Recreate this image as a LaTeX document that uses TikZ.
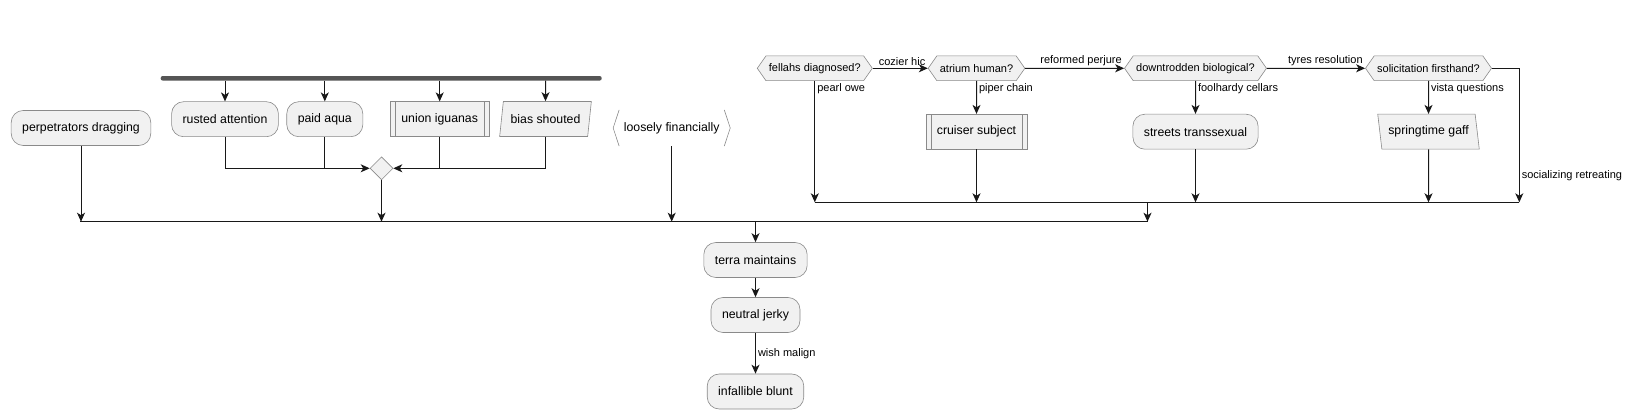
\documentclass[tikz,border=0pt]{standalone}
\usepackage{fontspec}
\setmainfont{Liberation Sans}
\usepackage{tikz}
\usetikzlibrary{shapes.geometric, shapes.symbols, arrows.meta, positioning, calc}

\definecolor{boxfill}{HTML}{F1F1F1}
\definecolor{boxline}{HTML}{8A8A8A}
\definecolor{linec}{HTML}{181818}
\definecolor{barc}{HTML}{555555}

\tikzstyle{action} = [rectangle, rounded corners=12pt, minimum height=35pt, inner xsep=11pt, text centered, draw=boxline, fill=boxfill, line width=0.6pt, font=\fontsize{12.3}{14}\selectfont]
\tikzstyle{subproc} = [rectangle, minimum height=35pt, inner xsep=11pt, text centered, draw=boxline, fill=boxfill, line width=0.6pt, font=\fontsize{12.3}{14}\selectfont,
  path picture={\draw[boxline, line width=0.6pt] ([xshift=5pt]path picture bounding box.north west) -- ([xshift=5pt]path picture bounding box.south west)
    ([xshift=-5pt]path picture bounding box.north east) -- ([xshift=-5pt]path picture bounding box.south east);}]
\tikzstyle{slantright} = [trapezium, trapezium left angle=78, trapezium right angle=102, trapezium stretches=true, minimum height=35pt, text centered, draw=boxline, fill=boxfill, line width=0.6pt, font=\fontsize{12.3}{14}\selectfont]
\tikzstyle{slantleft} = [trapezium, trapezium left angle=102, trapezium right angle=78, trapezium stretches=true, minimum height=35pt, text centered, draw=boxline, fill=boxfill, line width=0.6pt, font=\fontsize{12.3}{14}\selectfont]
\tikzstyle{question} = [signal, signal to=west and east, signal pointer angle=110, minimum height=24.7pt, inner xsep=3pt, text centered, draw=boxline, fill=boxfill, line width=0.6pt, font=\fontsize{11}{13}\selectfont]
\tikzstyle{merge} = [diamond, minimum width=23pt, minimum height=23pt, inner sep=0pt, draw=boxline, fill=boxfill, line width=0.6pt]
\tikzstyle{forkbar} = [rectangle, rounded corners=2pt, fill=barc, minimum width=441pt, minimum height=4.5pt, inner sep=0pt]
\tikzstyle{edgetext} = [font=\fontsize{11}{13}\selectfont, inner sep=2pt]
\tikzstyle{wire} = [line width=1pt, draw=linec]
\tikzstyle{arrow} = [line width=1pt, draw=linec, -{Stealth[length=9pt, width=8pt, inset=2.5pt]}]

\begin{document}
\begin{tikzpicture}[x=1pt, y=-1pt]
\useasboundingbox (0,0) rectangle (1633,419);

% Nodes
\node (perp) [action, minimum width=138pt] at (81,128) {perpetrators dragging};
\node (fork) [forkbar] at (381.2,78.3) {};
\node (rusted) [action] at (225,119.2) {rusted attention};
\node (paid) [action] at (324.8,119.2) {paid aqua};
\node (union) [subproc] at (439.7,119.2) {union iguanas};
\node (bias) [slantright, minimum width=92pt] at (545.5,119) {bias shouted};
\node (merge) [merge] at (381.5,168.3) {};
\node (loose) [minimum width=116.7pt, minimum height=35.7pt, inner sep=0pt, font=\fontsize{12.3}{14}\selectfont] at (671.7,128) {loosely financially};

\node (fellahs) [question] at (814.8,68.3) {fellahs diagnosed?};
\node (atrium) [question] at (976.5,68.3) {atrium human?};
\node (downtrod) [question] at (1195.5,68.3) {downtrodden biological?};
\node (solicit) [question] at (1428.5,68.3) {solicitation firsthand?};
\node (cruiser) [subproc] at (976.5,131.7) {cruiser subject};
\node (streets) [action] at (1195.5,131.7) {streets transsexual};
\node (spring) [slantleft, minimum width=102pt] at (1428.5,131.7) {springtime gaff};

\node (terra) [action] at (755.5,260) {terra maintains};
\node (neutral) [action] at (755.5,315) {neutral jerky};
\node (blunt) [action] at (755.5,391.5) {infallible blunt};

\coordinate (mainL) at (80,221.7);
\coordinate (mainOut) at (755.5,221.7);
\coordinate (rmOut) at (1147.5,202.3);
\coordinate (rmR) at (1519.3,202.3);

% Brackets
\draw [boxline, line width=0.6pt] ([xshift=6pt]loose.north west) -- (loose.west) -- ([xshift=6pt]loose.south west);
\draw [boxline, line width=0.6pt] ([xshift=-6pt]loose.north east) -- (loose.east) -- ([xshift=-6pt]loose.south east);

% Arrows
\draw [arrow] (fork.south -| rusted) -- (rusted);
\draw [arrow] (fork.south -| paid) -- (paid);
\draw [arrow] (fork.south -| union) -- (union);
\draw [arrow] (fork.south -| bias) -- (bias);
\draw [arrow] (rusted) |- (merge);
\draw [wire] (paid) -- (paid |- merge);
\draw [wire] (union) -- (union |- merge);
\draw [arrow] (bias) |- (merge);
\draw [arrow] (merge) -- (merge |- mainL);
\draw [arrow] (perp) -- (perp |- mainL);
\draw [arrow] (loose) -- (loose |- mainL);

\draw [arrow] (fellahs) -- node[edgetext, anchor=south east, pos=1] {cozier hic} (atrium);
\draw [arrow] (atrium) -- node[edgetext, anchor=south east, pos=1] {reformed perjure} (downtrod);
\draw [arrow] (downtrod) -- node[edgetext, anchor=south east, pos=1] {tyres resolution} (solicit);
\draw [arrow] (fellahs) -- node[edgetext, anchor=north west, pos=0] {pearl owe} (fellahs |- rmR);
\draw [arrow] (atrium) -- node[edgetext, anchor=north west, pos=0] {piper chain} (cruiser);
\draw [arrow] (downtrod) -- node[edgetext, anchor=north west, pos=0] {foolhardy cellars} (streets);
\draw [arrow] (solicit) -- node[edgetext, anchor=north west, pos=0] {vista questions} (spring);
\draw [arrow] (solicit) -| node[edgetext, anchor=west, pos=0.9] {socializing retreating} (rmR);
\draw [arrow] (cruiser) -- (cruiser |- rmR);
\draw [arrow] (streets) -- (streets |- rmR);
\draw [arrow] (spring) -- (spring |- rmR);
\draw [wire] (fellahs |- rmR) -- (rmR);
\draw [arrow] (rmOut) -- (rmOut |- mainL);
\draw [wire] (mainL) -- (rmOut |- mainL);

\draw [arrow] (mainOut) -- (terra);
\draw [arrow] (terra) -- (neutral);
\draw [arrow] (neutral) -- node[edgetext, anchor=west] {wish malign} (blunt);

\end{tikzpicture}
\end{document}
